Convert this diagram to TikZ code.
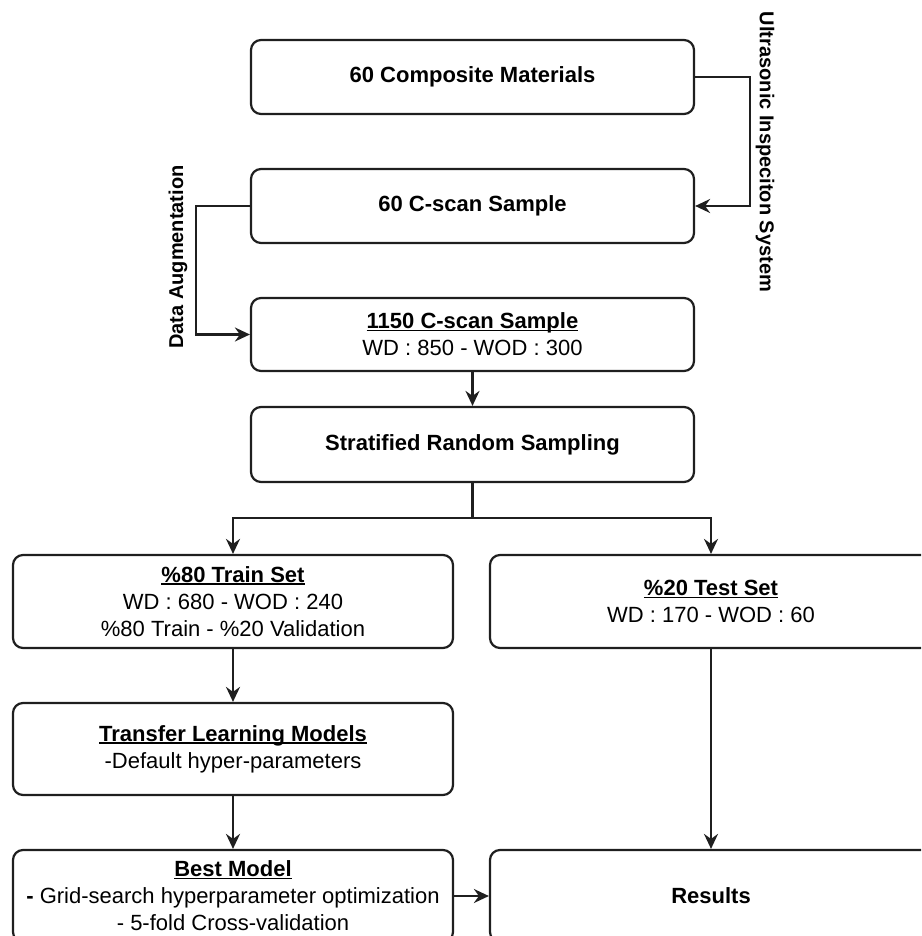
\documentclass[tikz,border=0pt]{standalone}
\usepackage{fontspec}
\setmainfont{Liberation Sans}
\usetikzlibrary{arrows.meta}
\newcommand\myul[1]{\setbox0\hbox{#1}\rlap{\rule[-2.6pt]{\wd0}{1.6pt}}\box0}
\begin{document}
\begin{tikzpicture}[x=1pt,y=-1pt,
  box/.style={draw=black!88, line width=2.2pt, rounded corners=10pt, align=center,
    inner sep=0pt, font=\fontsize{22}{27}\selectfont, text=black},
  wide/.style={minimum width=443pt},
  half/.style={minimum width=440pt},
  arr/.style={draw=black!88, line width=2.2pt, -{Stealth[length=15pt,width=14pt,inset=5pt]}},
  conn/.style={draw=black!88, line width=2.2pt},
  lbl/.style={font=\bfseries\fontsize{20}{24}\selectfont, inner sep=0pt}
]
\useasboundingbox (0,0) rectangle (921,936);
\clip (0,0) rectangle (921,936);

\node[box, wide, minimum height=74pt] (b1) at (472.5,77) {\textbf{60 Composite Materials}};
\node[box, wide, minimum height=74pt] (b2) at (472.5,206) {\textbf{60 C-scan Sample}};
\node[box, wide, minimum height=73pt] (b3) at (472.5,334.5) {\myul{\textbf{1150 C-scan Sample}}\\WD : 850 - WOD : 300};
\node[box, wide, minimum height=75pt] (b4) at (472.5,444.5) {\textbf{Stratified Random Sampling}};
\node[box, half, minimum height=93pt] (b5) at (233,601.5) {\myul{\textbf{\%80 Train Set}}\\WD : 680 - WOD : 240\\\%80 Train - \%20 Validation};
\node[box, minimum width=442pt, minimum height=93pt] (b6) at (711,601.5) {\myul{\textbf{\%20 Test Set}}\\WD : 170 - WOD : 60};
\node[box, half, minimum height=92pt] (b7) at (233,749) {\myul{\textbf{Transfer Learning Models}}\\-Default hyper-parameters};
\node[box, half, minimum height=92pt] (b9) at (233,896) {\myul{\textbf{Best Model}}\\\textbf{-} Grid-search hyperparameter optimization\\- 5-fold Cross-validation};
\node[box, minimum width=442pt, minimum height=92pt] (b8) at (711,896) {\textbf{Results}};

\coordinate (rx) at (750,0);
\coordinate (lx) at (196,0);
\coordinate (split) at (472.5,518);

\draw[arr] (b1.east) -- (b1.east -| rx) -- (b2.east -| rx) -- (b2.east);
\node[lbl, rotate=-90] (ulab) at (765,152) {Ultrasonic Inspeciton System};

\draw[arr] (b2.west) -- (b2.west -| lx) -- (b3.west -| lx) -- (b3.west);
\node[lbl, rotate=90] (dlab) at (178,257) {Data Augmentation};

\draw[arr] (b3.south) -- (b4.north);
\draw[conn] (b4.south) -- (split);
\draw[arr] (split) -- (split -| b5.north) -- (b5.north);
\draw[arr] (split) -- (split -| b6.north) -- (b6.north);
\draw[arr] (b5.south) -- (b7.north);
\draw[arr] (b7.south) -- (b9.north);
\draw[arr] (b6.south) -- (b8.north);
\draw[arr] (b9.east) -- (b8.west);
\end{tikzpicture}
\end{document}
